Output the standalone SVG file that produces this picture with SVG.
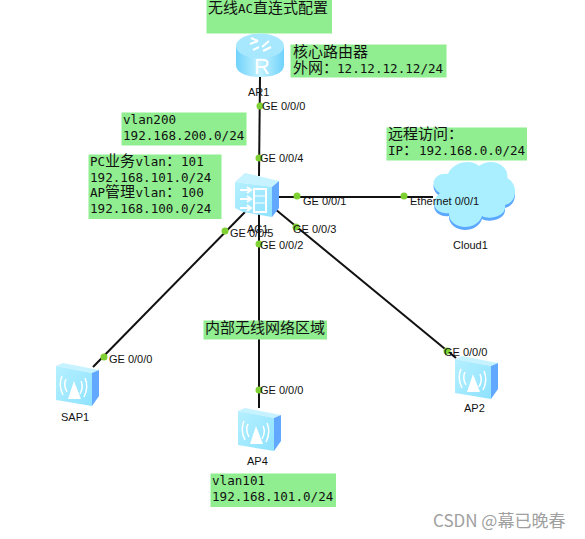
<svg xmlns="http://www.w3.org/2000/svg" width="585" height="539" viewBox="0 0 585 539">
<style>
.box{fill:#90ee90}
.cn{font-family:"Noto Sans CJK SC","DejaVu Sans Mono",monospace;font-size:15px;fill:#111}
.mono{font-family:"DejaVu Sans Mono","Liberation Mono",monospace;font-size:12.6px;fill:#111}
.lb{font-family:"Liberation Sans",Arial,sans-serif;font-size:11px;fill:#111}
.dot{fill:#7fd032}
.link{stroke:#111;stroke-width:2;fill:none}
</style>
<defs>
<linearGradient id="f" x1="0" y1="0" x2="1" y2="1"><stop offset="0" stop-color="#b5f0ff"/><stop offset="1" stop-color="#8fe2ff"/></linearGradient>
<linearGradient id="r" x1="0" y1="0" x2="1" y2="0"><stop offset="0" stop-color="#70d2fb"/><stop offset=".5" stop-color="#c4f2ff"/><stop offset="1" stop-color="#70d2fb"/></linearGradient>
<path id="cl" d="M440 193 C428 186 434 172 448 174 C452 163 470 158 479 166 C492 156 510 166 507 178 C519 184 517 203 505 205 C507 217 488 220 482 216 C476 233 448 229 449 213 C438 215 427 204 440 193 Z"/>
<g id="ap">
<path d="M0 3 L7 0 L43 7 L36 10 Z" fill="#c6f3ff"/>
<path d="M0 3 L36 10 V43 L0 37 Z" fill="url(#f)"/>
<path d="M36 10 L43 7 V33 L36 43 Z" fill="#62a8ff"/>
<path d="M18 18 L12 36 H25 Z" fill="#fff"/>
<path d="M10 16 Q7 22 11 29 M6 13 Q2 22 7 32 M25 18 Q28 24 24 31 M29 15 Q33 24 28 34" fill="none" stroke="#fff" stroke-width="1.500"/>
</g>
</defs>
<rect width="585" height="539" fill="#fff"/>
<g id="connectors">
<path class="link" d="M260 77 L259 176"/>
<path class="link" d="M278 197 H433"/>
<path class="link" d="M245 212 L93 367"/>
<path class="link" d="M259 214 V408"/>
<path class="link" d="M275 209 L456 358"/>
</g>
<g id="title"><rect class="box" x="206.500" y="0" width="125.500" height="33.500"/><text class="cn" x="208" y="13">无线</text><text class="mono" x="238" y="13">AC</text><text class="cn" x="253" y="13">直连式配置</text></g>
<g id="AR1">
<path d="M236 46 V65 C236 73 247 77 260 77 C274 77 284 73 284 65 V46 Z" fill="url(#r)"/>
<ellipse cx="260" cy="46" rx="24" ry="12.500" fill="#a8e8ff"/>
<path d="M250 44 L258 41 M263 51 L271 47 M251 38 L258 41 M262 47 L269 41 M253 50 L259 47" stroke="#fff" stroke-width="2" fill="none"/>
<text x="262" y="74" text-anchor="middle" style="font-family:'Liberation Sans',sans-serif;font-size:22px;fill:#fff">R</text>
<text class="lb" x="248" y="96">AR1</text>
</g>
<g id="core-note"><rect class="box" x="290.500" y="44.500" width="156" height="33"/><text class="cn" x="293" y="57">核心路由器</text><text class="cn" x="293" y="73">外网：</text><text class="mono" x="337" y="73">12.12.12.12/24</text></g>
<g id="vlan200-note"><rect class="box" x="121.500" y="112.500" width="125" height="33"/><text class="mono" x="123" y="124">vlan200</text><text class="mono" x="123" y="140">192.168.200.0/24</text></g>
<g id="vlan-note"><rect class="box" x="88.500" y="154.500" width="133" height="64.500"/>
<text class="mono" x="90" y="166">PC</text><text class="cn" x="105" y="166">业务</text><text class="mono" x="135.500" y="166">vlan</text><text class="cn" x="166" y="166">：</text><text class="mono" x="181" y="166">101</text>
<text class="mono" x="90" y="182">192.168.101.0/24</text>
<text class="mono" x="90" y="197">AP</text><text class="cn" x="105" y="197">管理</text><text class="mono" x="135.500" y="197">vlan</text><text class="cn" x="166" y="197">：</text><text class="mono" x="181" y="197">100</text>
<text class="mono" x="90" y="213">192.168.100.0/24</text></g>
<g id="AC1">
<path d="M235 182 L245 173 L279 181 L272 187 Z" fill="#c6f3ff"/>
<path d="M235 182 L272 187 V217 L243 212 L235 208 Z" fill="url(#f)"/>
<path d="M272 187 L279 181 V208 L272 217 Z" fill="#62a8ff"/>
<path d="M240 190 H250 M240 199 H250 M240 208 H250 M247 187 L251 190 L247 193 M247 196 L251 199 L247 202 M247 205 L251 208 L247 211" stroke="#fff" stroke-width="2" fill="none"/>
<rect x="254" y="189" width="12" height="23" fill="none" stroke="#fff" stroke-width="2"/>
<path d="M254 196 H266 M254 203 H266" stroke="#fff"/>
<text class="lb" x="247" y="233">AC1</text>
</g>
<g id="remote-note"><rect class="box" x="386.500" y="127.500" width="140.500" height="33"/><text class="cn" x="388" y="139">远程访问：</text><text class="mono" x="388" y="155">IP</text><text class="cn" x="403" y="155">：</text><text class="mono" x="419" y="155">192.168.0.0/24</text></g>
<g id="Cloud1">
<use href="#cl" y="3" fill="#5da8ff"/>
<use href="#cl" fill="#a9efff"/>
<text class="lb" x="453" y="249">Cloud1</text>
</g>
<g id="inner-note"><rect class="box" x="203.500" y="320.500" width="123.500" height="19"/><text class="cn" x="205" y="333">内部无线网络区域</text></g>
<g id="SAP1"><use href="#ap" x="56" y="363"/><text class="lb" x="61" y="421">SAP1</text></g>
<g id="AP4"><use href="#ap" x="238" y="408"/><text class="lb" x="247" y="465">AP4</text></g>
<g id="AP2"><use href="#ap" x="455" y="356"/><text class="lb" x="464" y="412">AP2</text></g>
<g id="ap4-note"><rect class="box" x="210.500" y="473.500" width="125.500" height="33.500"/><text class="mono" x="212" y="485">vlan101</text><text class="mono" x="212" y="501">192.168.101.0/24</text></g>
<g id="ports">
<circle class="dot" cx="260" cy="106" r="3.500"/><text class="lb" x="262" y="110">GE 0/0/0</text>
<circle class="dot" cx="259" cy="158" r="3.500"/><text class="lb" x="260" y="162">GE 0/0/4</text>
<circle class="dot" cx="297" cy="196" r="3.500"/><text class="lb" x="303" y="205">GE 0/0/1</text>
<circle class="dot" cx="404" cy="196" r="3.500"/><text class="lb" x="410" y="205">Ethernet 0/0/1</text>
<circle class="dot" cx="225" cy="231" r="3.500"/><text class="lb" x="230" y="237">GE 0/0/5</text>
<circle class="dot" cx="296" cy="227" r="3.500"/><text class="lb" x="293" y="233">GE 0/0/3</text>
<circle class="dot" cx="259" cy="244" r="3.500"/><text class="lb" x="260" y="249">GE 0/0/2</text>
<circle class="dot" cx="104" cy="357" r="3.500"/><text class="lb" x="109" y="363">GE 0/0/0</text>
<circle class="dot" cx="259" cy="390" r="3.500"/><text class="lb" x="260" y="394">GE 0/0/0</text>
<circle class="dot" cx="447" cy="351" r="3.500"/><text class="lb" x="444" y="356">GE 0/0/0</text>
</g>
<text x="433" y="527" style="font-family:'Noto Sans CJK SC','Liberation Sans',sans-serif;font-size:17px;fill:#a0a0a0">CSDN @幕已晚春</text>
</svg>
